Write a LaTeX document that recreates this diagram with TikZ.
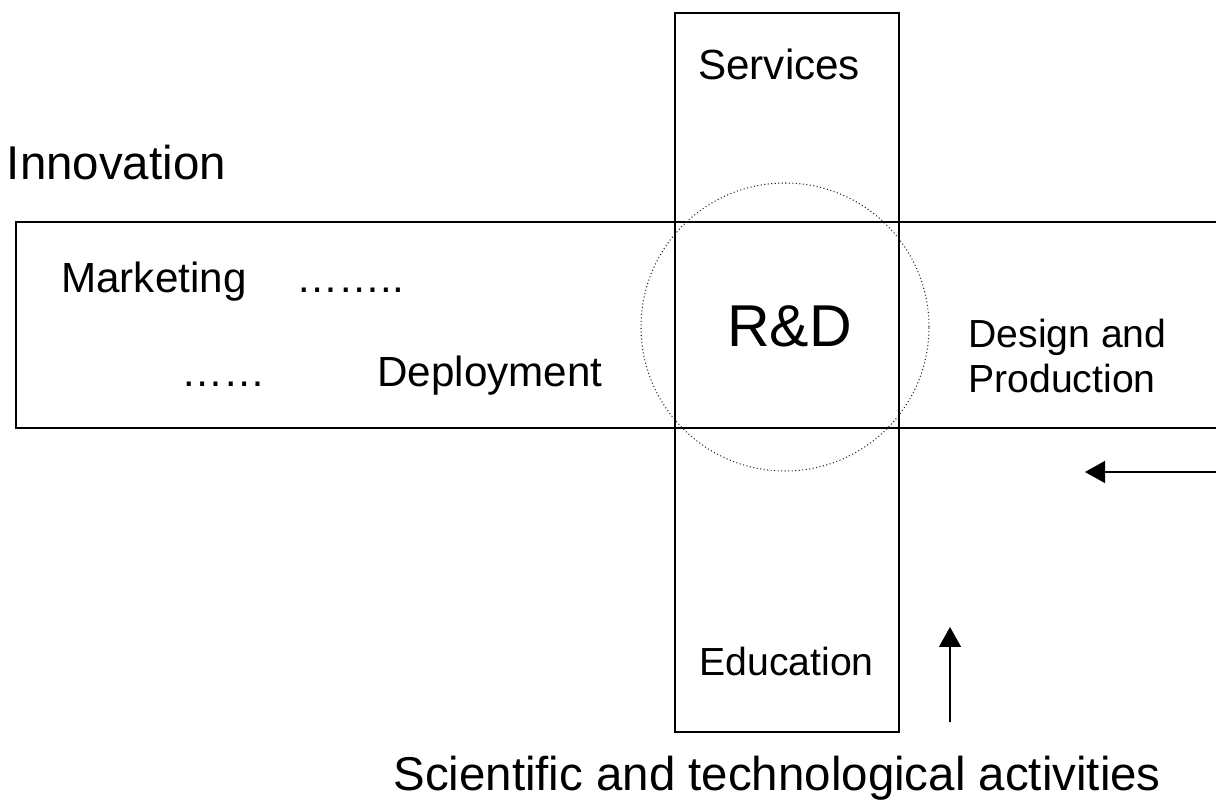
\documentclass[tikz,border=0pt]{standalone}
\usepackage{fontspec}
\setmainfont{Liberation Sans}
\usetikzlibrary{arrows.meta}
\tikzset{
	lbl/.style={anchor=base west, inner sep=0pt},
	midtext/.style={font=\fontsize{24}{28}\selectfont},
	smalltext/.style={font=\fontsize{22.3}{26}\selectfont},
	bigtext/.style={font=\fontsize{27}{32}\selectfont},
	band/.style={line width=0.8pt},
	arr/.style={-{Triangle[length=0.4cm,width=0.44cm]}, line width=0.8pt}
}
\begin{document}
\begin{tikzpicture}
	\useasboundingbox (0,0) rectangle (24.32,16.04);
	\clip (0,0) rectangle (24.32,16.04);
	\draw[band] (0.32,7.48) rectangle (24.6,11.6);
	\draw[band] (13.5,1.4) rectangle (17.98,15.78);
	\draw[dash pattern=on 0.6pt off 1.4pt, line width=0.6pt, black!85] (15.7,9.5) circle (2.88);
	\node[lbl, bigtext] (innovation) at (0.13,12.44) {Innovation};
	\node[lbl, midtext] (marketing) at (1.22,10.18) {Marketing};
	\node[lbl, midtext] (dotsa) at (5.92,10.18) {……..};
	\node[lbl, midtext] (dotsb) at (3.62,8.3) {……};
	\node[lbl, midtext] (deployment) at (7.54,8.3) {Deployment};
	\node[anchor=base, inner sep=0pt, font=\fontsize{33.6}{40}\selectfont] (rd) at (15.79,9.1) {R\&D};
	\node[lbl, midtext] (services) at (13.96,14.44) {Services};
	\node[lbl, smalltext] (design) at (19.36,9.08) {Design and};
	\node[lbl, smalltext] (production) at (19.36,8.18) {Production};
	\node[lbl, smalltext] (education) at (13.98,2.52) {Education};
	\node[lbl, bigtext] (scientific) at (7.86,0.24) {Scientific and technological activities};
	\coordinate (prodin) at (24.32,6.6);
	\coordinate (prodtip) at (21.7,6.6);
	\coordinate (scitail) at (19,1.6);
	\coordinate (scitip) at (19,3.5);
	\draw[arr] (prodin) -- (prodtip);
	\draw[arr] (scitail) -- (scitip);
\end{tikzpicture}
\end{document}
